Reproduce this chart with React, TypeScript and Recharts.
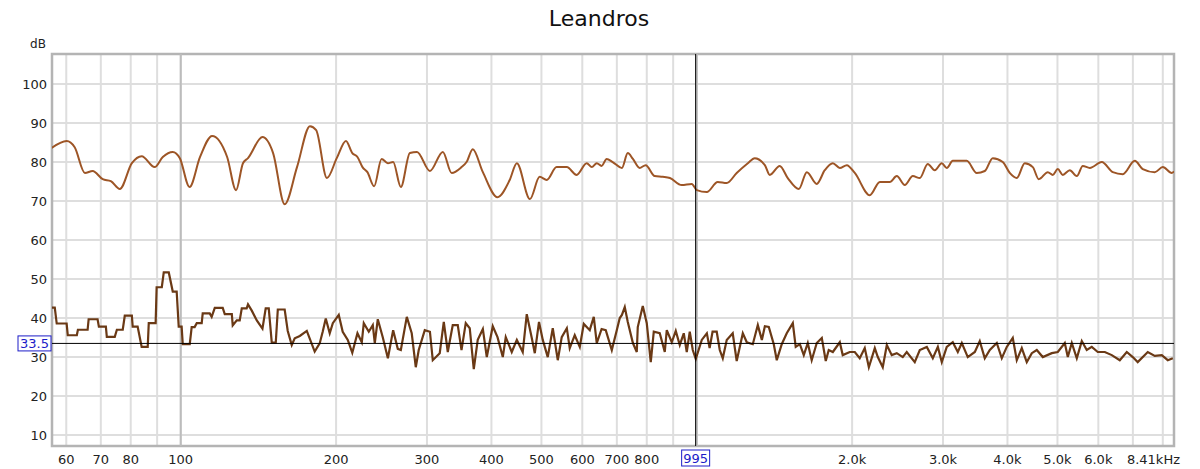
import React from 'react';
import { LineChart, Line, XAxis, YAxis, CartesianGrid, ReferenceLine, ReferenceArea, Label } from 'recharts';

// upper trace (smoothed response)
const upperFreq = [
  56.2, 60.1, 62.3, 65.2, 67.5, 70.6, 73.2, 76.2, 80.4, 84.0, 89.0, 92.3, 96.5, 99.6, 104, 109, 115, 123, 128, 132,
  135, 144, 151, 159, 168, 178, 183, 192, 200.6, 209, 215, 220, 225, 230, 237, 245, 252, 258, 267, 278,
  287, 304, 322, 335, 350, 358, 368, 385, 411, 434, 448, 475, 496, 512, 535, 560, 585, 612, 626, 640,
  654, 669, 687, 716, 735, 752, 775, 796, 829, 859, 887, 935, 978, 1000, 1046, 1098, 1143, 1195, 1256, 1295,
  1355, 1385, 1448, 1501, 1577, 1634, 1708, 1770, 1835, 1893, 1953, 2024, 2164, 2263, 2366, 2441, 2530, 2622, 2705, 2803,
  2892, 2984, 3051, 3134, 3336, 3488, 3615, 3746, 3917, 4041, 4170, 4321, 4479, 4600, 4789, 4897, 5007, 5120, 5282, 5450,
  5598, 5776, 6094, 6400, 6693, 7060, 7317, 7719, 8000, 8328, 8410,
];
const upperLevel = [
  83.6, 85.4, 83.8, 77.2, 77.7, 75.6, 75.1, 73.1, 79.7, 81.5, 78.7, 81.3, 82.6, 81, 73.6, 81.3, 86.7, 81.3, 72.8, 79.7,
  81, 86.4, 82.3, 69.2, 78.7, 89.2, 88.2, 75.9, 81, 85.4, 82.3, 81.3, 78.7, 77.4, 73.8, 80.8, 79.7, 80, 73.6, 82.3,
  82.6, 77.7, 82.6, 77.2, 78.7, 80, 83.3, 77.4, 71, 75.4, 79.7, 70.5, 76.2, 75.4, 78.7, 78.7, 76.7, 79.7, 78.7, 79.7,
  79, 80.8, 80, 78.5, 82.3, 80.8, 78.5, 79.2, 76.4, 76.2, 75.9, 74.1, 74.4, 72.8, 72.3, 74.9, 74.6, 77.2, 79.7, 81,
  79.2, 76.7, 79, 75.9, 73.1, 77.4, 74.4, 77.9, 79.7, 78.5, 79.2, 77.2, 71.5, 74.9, 74.9, 76.4, 74.1, 76.4, 75.9, 79.5,
  77.9, 79.7, 78.5, 80.3, 80.3, 77.2, 77.7, 81, 80, 77.2, 75.9, 79.7, 78.7, 75.6, 77.4, 76.7, 78.2, 76.7, 77.9, 76.4,
  79, 78.5, 80, 77.4, 76.9, 80.3, 78.2, 77.4, 78.7, 77.2, 77.6,
];

// lower trace (noise)
const lowerFreq = [
  56.2, 57.0, 57.5, 60.1, 60.4, 62.9, 63.2, 66.0, 66.3, 69.0, 69.4, 71.6, 71.9, 74.5, 75.2, 77.2, 77.9, 80.4, 80.7, 82.5,
  84.0, 86.3, 86.7, 89.4, 89.8, 91.9, 92.7, 94.8, 96.5, 98.2, 99.1, 100.4, 100.9, 104.1, 105, 106.4, 107.4, 109.8, 110.3, 113.8,
  114.8, 116.4, 120.6, 121.7, 125.6, 126.1, 128.4, 130.1, 131.3, 134.2, 135, 137.3, 140.4, 144, 146.1, 148.1, 150.1, 152.8, 154.2, 159,
  161.2, 164.1, 166.3, 170.1, 175.5, 181.8, 185.9, 188.4, 191, 194.4, 197.1, 202.4, 206, 210.7, 215, 220, 224.3, 226.3, 231.4, 235.6,
  237.7, 240.9, 246.3, 252, 258, 263.4, 267, 274.2, 280.3, 285.4, 289.2, 297.1, 304, 307.9, 317.6, 323.4, 329.2, 336.6, 344.2, 350,
  356.7, 363.1, 369.7, 376.3, 385, 391.8, 402.4, 411, 420.8, 426.4, 438, 448, 460, 468.3, 478.9, 485.4, 494.6, 503, 514.3, 525.9,
  537.8, 547.4, 560, 567.3, 580.1, 593.3, 604, 620.3, 631.5, 640, 654, 666.2, 684.4, 699.8, 709.2, 716, 725.2, 735, 752, 765.1,
  768.5, 785.9, 800, 814.4, 825.4, 847.7, 866.9, 874.7, 894.4, 910.5, 926.9, 943.6, 956.3, 969.2, 982.3, 995.5, 1022.5, 1046, 1059, 1073,
  1093, 1108, 1123, 1143, 1174, 1195, 1228, 1250, 1284, 1313, 1337, 1355, 1379, 1410, 1429, 1461, 1494, 1535, 1555, 1584,
  1612, 1641, 1670, 1708, 1747, 1778, 1802, 1835, 1893, 1918, 1979, 2024, 2069, 2116, 2155, 2213, 2243, 2293, 2335, 2387,
  2441, 2507, 2552, 2645, 2705, 2791, 2867, 2932, 2984, 3051, 3134, 3205, 3263, 3351, 3458, 3535, 3615, 3697, 3814, 3900,
  3988, 4096, 4170, 4264, 4360, 4459, 4559, 4683, 4875, 5007, 5166, 5236, 5330, 5450, 5573, 5698, 5827, 5985, 6176, 6371,
  6603, 6812, 6996, 7153, 7481, 7719, 7964, 8180, 8365,
];
const lowerLevel = [
  42.7, 42.7, 38.6, 38.6, 35.6, 35.6, 37.0, 37.0, 39.7, 39.7, 37.8, 37.8, 35.2, 35.2, 37.0, 37.0, 40.6, 40.6, 37.8, 37.8,
  32.6, 32.6, 38.7, 38.7, 47.9, 47.9, 51.7, 51.7, 46.8, 46.8, 37.8, 37.8, 33.3, 33.3, 37.7, 37.7, 38.7, 38.7, 41.2, 41.2,
  40.3, 42.6, 42.6, 41.0, 41.0, 38.1, 39.4, 39.4, 42.5, 42.5, 43.5, 41.9, 39.4, 37.3, 42.5, 42.5, 33.7, 33.7, 42.2, 42.2,
  36.7, 33.1, 34.8, 35.4, 36.7, 31.4, 33.5, 36.5, 39.9, 36.1, 38.7, 40.8, 36.5, 34.4, 31.1, 36.1, 33.8, 38.7, 36.5, 38.2,
  33.6, 39.7, 35.1, 29.7, 36.9, 32.1, 31.8, 40.3, 36.1, 27.4, 31.8, 36.9, 36.5, 29.2, 31, 39, 31.3, 38.2, 38.2, 31.8,
  38.7, 37.4, 26.9, 34.4, 37.2, 30, 37.9, 35.1, 30, 35.1, 31.3, 34.4, 31.3, 41, 34.9, 31, 39, 34.4, 30, 37.4,
  29.2, 35.1, 37.4, 32.3, 35.6, 32.6, 38.5, 36.9, 40.3, 33.6, 37.2, 36.9, 31.8, 36.9, 40, 40.8, 42.8, 39, 33.6, 31.3,
  37.7, 43.1, 38.7, 28.7, 36.5, 36.1, 31.3, 36.9, 33.8, 36.7, 33.1, 36.1, 31.3, 36.5, 31.8, 29.5, 34.4, 36.1, 32.3, 36.5,
  36.5, 31.8, 29.7, 34.4, 36.1, 29, 36.1, 33.8, 33.3, 38.2, 34.4, 37.9, 37.7, 33.3, 29.2, 33.3, 36.1, 38.7, 32.6, 33.3,
  30.5, 33.6, 29.2, 33.6, 34.9, 29, 31.8, 31.3, 33.8, 30.5, 31.3, 31.3, 29.7, 32.3, 27.4, 32.3, 30, 27.4, 33.1, 30.5,
  31, 30, 31.3, 28.7, 31.8, 32.6, 29.7, 32.6, 28.7, 32.6, 33.8, 31.3, 33.6, 30, 31.3, 34.1, 29.7, 31.8, 33.6, 29.7,
  32.6, 34.9, 29.2, 32.3, 28.7, 31, 31.8, 30, 31, 31.3, 33.6, 30, 33.6, 29.7, 34.1, 31.8, 32.6, 31.3, 31.3, 30.5,
  29.2, 31.3, 30, 28.7, 31.3, 30.3, 30.5, 29.2, 29.7,
];

const xTicks = [60, 70, 80, 90, 100, 200, 300, 400, 500, 600, 700, 800, 900, 1000, 2000, 3000, 4000, 5000, 6000, 7000, 8000, 8410];
const xTickText: Record<number, string> = {
  60: '60', 70: '70', 80: '80', 100: '100', 200: '200', 300: '300', 400: '400', 500: '500', 600: '600',
  700: '700', 800: '800', 2000: '2.0k', 3000: '3.0k', 4000: '4.0k', 5000: '5.0k', 6000: '6.0k', 8410: '8.41kHz',
};
const yTicks = [10, 20, 30, 40, 50, 60, 70, 80, 90, 100];

const cursorFreq = 995;
const cursorLevel = 33.5;

const X_MIN = 56.3;
const X_MAX = 8410;
const Y_MIN = 7.2;
const Y_MAX = 107.7;

const upperData = upperFreq.map((f, i) => ({ f, v: upperLevel[i] }));
const lowerData = lowerFreq.map((f, i) => ({ f, v: lowerLevel[i] }));

const FONT = '"DejaVu Sans", sans-serif';
const BLUE = '#1c1cc8';

function XTick(props: any) {
  const { x, y, payload } = props;
  const text = xTickText[payload.value];
  if (!text) return null;
  const last = payload.value === X_MAX;
  return (
    <text x={last ? x + 6 : x} y={y} dy={10} textAnchor={last ? 'end' : 'middle'} fontSize={13} fontFamily={FONT} fill="#222">
      {text}
    </text>
  );
}

function CursorYLabel(props: any) {
  const { viewBox } = props;
  const x = viewBox.x;
  const y = viewBox.y;
  return (
    <g>
      <rect x={x - 34} y={y - 7.5} width={33} height={15} fill="#fff" stroke={BLUE} strokeWidth={1} />
      <text x={x - 17.5} y={y + 5} textAnchor="middle" fontSize={13} fontFamily={FONT} fill={BLUE}>
        {cursorLevel}
      </text>
    </g>
  );
}

function CursorXLabel(props: any) {
  const { viewBox } = props;
  const x = viewBox.x;
  const y = viewBox.y + viewBox.height;
  return (
    <g>
      <rect x={x - 14} y={y + 4} width={28} height={16} fill="#fff" stroke={BLUE} strokeWidth={1} />
      <text x={x} y={y + 17} textAnchor="middle" fontSize={13} fontFamily={FONT} fill={BLUE}>
        {cursorFreq}
      </text>
    </g>
  );
}

export default function App() {
  return (
    <div style={{ position: 'absolute', left: 0, top: 0, width: 1200, height: 469, background: '#fff', fontFamily: FONT }}>
      <div style={{ position: 'absolute', left: 0, top: 6, width: 1198, textAlign: 'center', fontSize: 22, color: '#111' }}>
        Leandros
      </div>
      <LineChart width={1200} height={469} margin={{ top: 54, right: 26, bottom: 0, left: 0 }}>
        <CartesianGrid stroke="#dedede" strokeWidth={2} />
        <XAxis
          type="number"
          dataKey="f"
          scale="log"
          domain={[X_MIN, X_MAX]}
          ticks={xTicks}
          allowDataOverflow
          axisLine={false}
          tickLine={false}
          height={23}
          tick={<XTick />}
          interval={0}
        />
        <YAxis
          type="number"
          domain={[Y_MIN, Y_MAX]}
          ticks={yTicks}
          allowDataOverflow
          axisLine={false}
          tickLine={false}
          width={52}
          tickMargin={2}
          tickSize={3}
          tick={{ fill: '#222', fontSize: 13, fontFamily: FONT }}
          interval={0}
        >
          <Label
            content={(p: any) => (
              <text x={p.viewBox.x + p.viewBox.width - 14} y={p.viewBox.y - 6} textAnchor="middle" fontSize={12} fontFamily={FONT} fill="#222">
                dB
              </text>
            )}
          />
        </YAxis>
        <ReferenceLine x={100} stroke="#bcbcbc" strokeWidth={2} />
        <ReferenceLine x={1000} stroke="#bcbcbc" strokeWidth={2} />
        <ReferenceArea x1={X_MIN} x2={X_MAX} y1={Y_MIN} y2={Y_MAX} fill="none" stroke="#b4b4b4" strokeWidth={2.5} />
        <Line
          data={upperData}
          dataKey="v"
          type="monotone"
          stroke="#9d5526"
          strokeWidth={2}
          dot={false}
          activeDot={false}
          isAnimationActive={false}
        />
        <Line
          data={lowerData}
          dataKey="v"
          type="linear"
          stroke="#6a3915"
          strokeWidth={2.2}
          dot={false}
          activeDot={false}
          isAnimationActive={false}
        />
        <ReferenceLine y={cursorLevel} stroke="#000" strokeWidth={1} label={<CursorYLabel />} />
        <ReferenceLine x={cursorFreq} stroke="#000" strokeWidth={1} label={<CursorXLabel />} />
      </LineChart>
    </div>
  );
}
